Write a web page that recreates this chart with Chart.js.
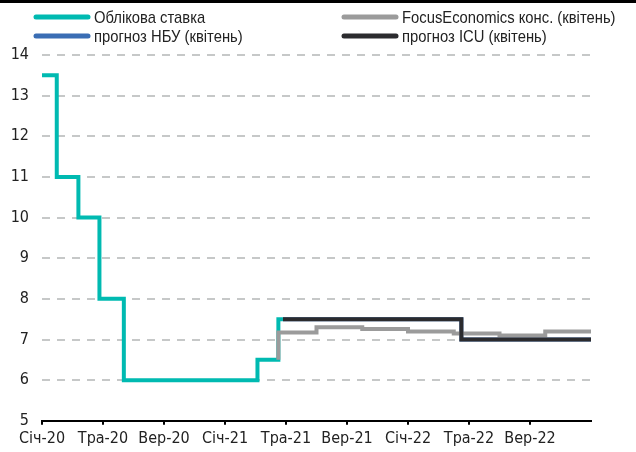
<!DOCTYPE html>
<html>
<head>
<meta charset="utf-8">
<script src="https://cdn.jsdelivr.net/npm/chart.js@4/dist/chart.umd.min.js"></script>
<style>
  html, body { margin: 0; padding: 0; background: #fff; }
  #wrap { width: 636px; height: 452px; position: relative; }
</style>
</head>
<body>
<div id="wrap"><canvas id="c" width="636" height="452"></canvas></div>
<script>
// Облікова ставка НБУ та прогнози, %
const rateDates   = ['2020-01-01','2020-01-31','2020-03-13','2020-04-24','2020-06-12','2021-03-05','2021-04-16','2021-04-25'];
const rateValues  = [13.5, 11, 10, 8, 6, 6.5, 7.5, 7.5];

const nbuDates    = ['2021-04-25','2022-04-16','2023-01-01'];
const nbuValues   = [7.5, 7.0, 7.0];

const focusDates  = ['2021-04-16','2021-04-16','2021-07-01','2021-10-01','2022-01-01','2022-04-01','2022-07-01','2022-10-01','2023-01-01'];
const focusValues = [6.5, 7.17, 7.3, 7.26, 7.2, 7.15, 7.1, 7.2, 7.2];

const icuDates    = ['2021-04-25','2022-04-16','2023-01-01'];
const icuValues   = [7.5, 7.0, 7.0];

const seriesNames = ['Облікова ставка', 'прогноз НБУ (квітень)', 'FocusEconomics конс. (квітень)', 'прогноз ICU (квітень)'];
const monthNames  = ['Січ','Лют','Бер','Кві','Тра','Чер','Лип','Сер','Вер','Жов','Лис','Гру'];
const tickMonths  = [0, 4, 8, 12, 16, 20, 24, 28, 32];
const yTicks      = [5, 6, 7, 8, 9, 10, 11, 12, 13, 14];

const FONT = "'Liberation Sans Narrow', 'DejaVu Sans Condensed', 'Arial Narrow', sans-serif";
const LEGEND_FONT = "'Liberation Sans', Arial, sans-serif";

// months elapsed since January 2020 (fractional within a month)
function monthIndex(s) {
  const [y, m, d] = s.split('-').map(Number);
  const days = new Date(y, m, 0).getDate();
  return (y - 2020) * 12 + (m - 1) + (d - 1) / days;
}
function toPoints(dates, values) {
  return dates.map((d, i) => ({ x: monthIndex(d), y: values[i] }));
}
function monthLabel(v) {
  const m = ((v % 12) + 12) % 12;
  const y = 20 + Math.floor(v / 12);
  return monthNames[m] + '-' + y;
}

const colors = ['#00bab1', '#3a6db4', '#9b9b9b', '#2b2b2e'];

// legend in two columns above the plot, plus the dark strip at the very top
const legendPlugin = {
  id: 'twoColLegend',
  afterDraw(chart) {
    const ctx = chart.ctx;
    ctx.save();
    ctx.fillStyle = '#000';
    ctx.fillRect(0, 0, chart.width, 3);
    const slots = [
      { x: 36, y: 17 },   // Облікова ставка
      { x: 36, y: 36 },   // прогноз НБУ
      { x: 344, y: 17 },  // FocusEconomics
      { x: 344, y: 36 }   // прогноз ICU
    ];
    chart.data.datasets.forEach((ds, i) => {
      const s = slots[i];
      ctx.strokeStyle = ds.borderColor;
      ctx.lineWidth = 5;
      ctx.lineCap = 'round';
      ctx.beginPath();
      ctx.moveTo(s.x, s.y);
      ctx.lineTo(s.x + 52, s.y);
      ctx.stroke();
      // condensed label text
      ctx.save();
      ctx.translate(s.x + 58, s.y + 1);
      ctx.scale(0.87, 1);
      ctx.fillStyle = '#222';
      ctx.font = '17px ' + LEGEND_FONT;
      ctx.textBaseline = 'middle';
      ctx.textAlign = 'left';
      ctx.fillText(ds.label, 0, 0);
      ctx.restore();
    });
    ctx.restore();
  }
};

new Chart(document.getElementById('c'), {
  type: 'line',
  data: {
    datasets: [
      { label: seriesNames[0], data: toPoints(rateDates, rateValues),   borderColor: colors[0], order: 3 },
      { label: seriesNames[1], data: toPoints(nbuDates, nbuValues),     borderColor: colors[1], order: 2 },
      { label: seriesNames[2], data: toPoints(focusDates, focusValues), borderColor: colors[2], order: 1 },
      { label: seriesNames[3], data: toPoints(icuDates, icuValues),     borderColor: colors[3], order: 0 }
    ].map(ds => Object.assign(ds, {
      borderWidth: 4,
      stepped: true,
      pointRadius: 0,
      fill: false,
      borderJoinStyle: 'miter',
      borderCapStyle: 'butt'
    }))
  },
  options: {
    responsive: false,
    animation: false,
    layout: { padding: { top: 55, left: 8, right: 45, bottom: 0 } },
    plugins: {
      legend: { display: false },
      tooltip: { enabled: false }
    },
    scales: {
      x: {
        type: 'linear',
        min: 0,
        max: 36,
        afterBuildTicks(axis) { axis.ticks = tickMonths.map(v => ({ value: v })); },
        ticks: {
          callback: v => monthLabel(v),
          color: '#222',
          font: { family: FONT, size: 16 },
          maxRotation: 0,
          autoSkip: false,
          padding: 4
        },
        grid: { drawOnChartArea: false, drawTicks: true, tickLength: 4, color: '#000', lineWidth: 2 },
        border: { display: true, color: '#000', width: 2 }
      },
      y: {
        min: 5,
        max: 14,
        afterBuildTicks(axis) { axis.ticks = yTicks.map(v => ({ value: v })); },
        afterFit(axis) { axis.width = 34; },
        ticks: {
          color: '#222',
          font: { family: FONT, size: 16 },
          padding: 13
        },
        grid: {
          drawTicks: false,
          color: ctx => ctx.tick && ctx.tick.value === 5 ? 'rgba(0,0,0,0)' : '#c6c8c8',
          lineWidth: 2
        },
        border: { display: false, dash: [8, 7] }
      }
    }
  },
  plugins: [legendPlugin]
});
</script>
</body>
</html>
